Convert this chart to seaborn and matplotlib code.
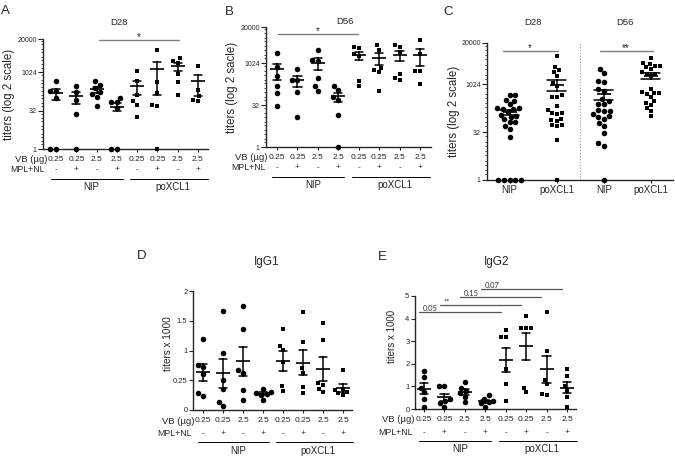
import numpy as np
import pandas as pd
import matplotlib
matplotlib.use('Agg')
import matplotlib.pyplot as plt
import matplotlib.ticker as mticker
from matplotlib.transforms import blended_transform_factory, offset_copy
import seaborn as sns

# group order: NIP (0.25-, 0.25+, 2.5-, 2.5+), poXCL1 (0.25-, 0.25+, 2.5-, 2.5+)
doses = ['0.25', '0.25', '2.5', '2.5', '0.25', '0.25', '2.5', '2.5']
mpl_nl = ['-', '+', '-', '+', '-', '+', '-', '+']
vaccines = ['NIP', 'poXCL1']

d28_titers = [
    [450, 180, 180, 100, 1, 1],
    [300, 170, 80, 23, 1],
    [460, 330, 240, 170, 140, 110, 50],
    [98, 66, 66, 40, 1, 1],
    [1100, 450, 125, 72, 53, 18],
    [7600, 410, 154, 53, 48, 1],
    [3500, 2800, 2400, 880, 410, 125],
    [1780, 208, 114, 84, 75],
]
d56_titers = [
    [2300, 720, 360, 160, 84, 30],
    [610, 250, 245, 94, 12],
    [3100, 1290, 1200, 300, 150, 100],
    [150, 115, 62, 50, 14, 1],
    [3800, 3600, 2200, 1800, 230, 150],
    [4400, 3100, 700, 560, 490, 100],
    [4700, 3800, 2500, 400, 300, 260],
    [6600, 2200, 530, 530, 180],
]
igg1 = [
    [1.19, 0.76, 0.72, 0.6, 0.29, 0.24],
    [1.66, 0.96, 0.5, 0.36, 0.14, 0.07],
    [1.74, 1.36, 0.68, 0.63, 0.33, 0.16],
    [0.36, 0.31, 0.29, 0.27, 0.25, 0.16],
    [1.36, 1.08, 1.01, 0.8, 0.4, 0.32],
    [1.64, 1.15, 0.7, 0.62, 0.39, 0.28],
    [1.46, 1.18, 0.45, 0.42, 0.36, 0.31],
    [0.67, 0.36, 0.33, 0.3, 0.28, 0.26],
]
igg2 = [
    [1.7, 1.4, 0.95, 0.75, 0.45, 0.1],
    [1.0, 1.0, 0.45, 0.35, 0.25, 0.1],
    [1.2, 0.95, 0.8, 0.7, 0.55, 0.3],
    [0.6, 0.45, 0.35, 0.3, 0.25, 0.1],
    [3.5, 3.2, 3.2, 1.75, 1.1, 0.35],
    [4.1, 3.6, 3.6, 3.6, 0.75, 0.95],
    [4.3, 2.55, 1.3, 1.1, 0.6, 0.65],
    [1.75, 1.45, 1.0, 0.8, 0.55, 0.1],
]
igg2_pairs = [(0, 4), (1, 5), (2, 6), (3, 7)]
igg2_pvals = ['0.05', '**', '0.15', '0.07']
igg2_bar_y = [4.31, 4.6, 4.97, 5.31]

pooled_labels = ['NIP', 'poXCL1', 'NIP', 'poXCL1']
# panel C pools the four NIP / poXCL1 groups of each day
pooled = [sum(d28_titers[:4], []), sum(d28_titers[4:], []),
          sum(d56_titers[:4], []), sum(d56_titers[4:], [])]

W, H = 675, 459
sns.set_style('ticks')
plt.rcParams['font.family'] = ['Liberation Sans', 'DejaVu Sans']
plt.rcParams['axes.linewidth'] = 1.0


def box(l, t, r, b):
    return [l / W, 1 - b / H, (r - l) / W, (b - t) / H]


def long_table(groups):
    rows = [(i, v) for i, vals in enumerate(groups) for v in vals]
    return pd.DataFrame(rows, columns=['grp', 'val'])


def dot_panel(ax, groups, squares, sq_color='black'):
    df = long_table(groups)
    circ = df[~df.grp.isin(squares)]
    sq = df[df.grp.isin(squares)]
    sns.swarmplot(data=circ, x='grp', y='val', native_scale=True, marker='o',
                  size=4, color='black', clip_on=False, ax=ax)
    sns.swarmplot(data=sq, x='grp', y='val', native_scale=True, marker='s',
                  size=3.5, color=sq_color, clip_on=False, ax=ax)
    sns.pointplot(data=df, x='grp', y='val', native_scale=True, errorbar='se',
                  capsize=0.4, linestyle='none', marker='_', markersize=10,
                  markeredgewidth=1.2, color='black',
                  err_kws={'linewidth': 1.1}, ax=ax)
    sns.despine(ax=ax)
    ax.set_xlabel('')
    ax.set_ylabel('')


def log2_axis(ax):
    ax.set_yscale('log', base=2)
    ax.set_ylim(1, 20000)
    ax.set_yticks([1, 32, 1024, 20000])
    ax.set_yticklabels(['1', '32', '1024', '20000'])
    ax.yaxis.set_minor_locator(mticker.LogLocator(base=2, subs=(1.0, 1.5), numticks=60))
    ax.yaxis.set_minor_formatter(mticker.NullFormatter())
    ax.tick_params(axis='y', which='major', length=3.5, width=0.8, labelsize=5, pad=1)
    ax.tick_params(axis='y', which='minor', length=1.8, width=0.6)


def group_axis(ax, fig, rows):
    blend = blended_transform_factory(ax.transData, ax.transAxes)

    def row(dy):
        return offset_copy(blend, fig=fig, x=0, y=-dy, units='dots')

    ax.set_xticks(range(8))
    ax.set_xticklabels(doses)
    ax.tick_params(axis='x', length=2.5, width=0.8, labelsize=6, pad=2.2)
    ax.text(-0.45, 0, 'VB (µg)', transform=row(rows[0]), ha='right', va='center', fontsize=6.8)
    ax.text(-0.55, 0, 'MPL+NL', transform=row(rows[1]), ha='right', va='center', fontsize=6.3)
    for i, s in enumerate(mpl_nl):
        ax.text(i, 0, s, transform=row(rows[1]), ha='center', va='center', fontsize=6)
    for (lo, hi), name, mid in zip([(-0.25, 3.3), (3.65, 7.5)], vaccines, [1.75, 5.75]):
        ax.plot([lo, hi], [0, 0], transform=row(rows[2]), color='black', lw=0.7, clip_on=False)
        ax.text(mid, 0, name, transform=row(rows[3]), ha='center', va='center', fontsize=7)


def sig_bar(ax, x0, x1, y, label, color='#808080', size=7, dy=0):
    ax.plot([x0, x1], [y, y], color=color, lw=1.0, clip_on=False)
    ax.annotate(label, xy=((x0 + x1) / 2, y), xytext=(0, dy), textcoords='offset pixels',
                ha='center', va='bottom', fontsize=size, annotation_clip=False)


fig = plt.figure(figsize=(W / 100, H / 100), dpi=100)
axA = fig.add_axes(box(43, 39, 208, 149))
axB = fig.add_axes(box(266, 27, 431, 147))
axC = fig.add_axes(box(487, 43, 673, 180))
axD = fig.add_axes(box(193, 291, 352, 410))
axE = fig.add_axes(box(415, 296, 576, 409))

# A: D28
dot_panel(axA, d28_titers, squares=[4, 5, 6, 7])
log2_axis(axA)
axA.set_xlim(-0.65, 7.5)
group_axis(axA, fig, (11, 21, 29.5, 38))
axA.set_ylabel('titers (log 2 scale)', fontsize=8.3)
axA.yaxis.set_label_coords(-0.17, 0.5)
axA.text(0.46, 1.15, 'D28', transform=axA.transAxes, ha='center', va='center', fontsize=6.8)
sig_bar(axA, 2.1, 6.05, 2 ** 14.1, '*', dy=-2)

# B: D56
dot_panel(axB, d56_titers, squares=[4, 5, 6, 7])
log2_axis(axB)
axB.set_xlim(-0.54, 7.54)
group_axis(axB, fig, (11, 21, 29.5, 38))
axB.set_ylabel('titers (log 2 sacle)', fontsize=8.3)
axB.yaxis.set_label_coords(-0.17, 0.5)
axB.text(0.48, 1.044, 'D56', transform=axB.transAxes, ha='center', va='center', fontsize=6.8)
sig_bar(axB, 0.05, 3.98, 2 ** 13.4, '*', dy=-2)

# C: pooled per vaccine and day
dot_panel(axC, pooled, squares=[1, 3])
log2_axis(axC)
axC.set_xlim(-0.48, 3.47)
axC.set_xticks(range(4))
axC.set_xticklabels(pooled_labels)
axC.tick_params(axis='x', length=2.5, width=0.8, labelsize=7, pad=1)
axC.axvline(1.5, color='#999999', lw=0.8, ls=':')
axC.set_ylabel('titers (log 2 scale)', fontsize=8.3)
axC.yaxis.set_label_coords(-0.145, 0.5)
axC.text(0.5, 1.148, 'D28', transform=blended_transform_factory(axC.transData, axC.transAxes),
         ha='center', va='center', fontsize=6.8)
axC.text(2.45, 1.148, 'D56', transform=blended_transform_factory(axC.transData, axC.transAxes),
         ha='center', va='center', fontsize=6.8)
sig_bar(axC, -0.15, 1.02, 2 ** 13.45, '*', dy=-2)
sig_bar(axC, 1.91, 3.04, 2 ** 13.45, '**', dy=-2)

# D: IgG1
dot_panel(axD, igg1, squares=[4, 5, 6, 7])
axD.set_ylim(0, 2)
axD.set_xlim(-0.5, 7.45)
axD.set_yticks([0, 0.5, 1, 1.5, 2])
axD.set_yticklabels(['0', '0.25', '1', '1.5', '2'])
axD.tick_params(axis='y', length=3, width=0.8, labelsize=5.5, pad=1)
group_axis(axD, fig, (11.5, 23.5, 32, 41))
axD.set_ylabel('titers x 1000', fontsize=7.2)
axD.yaxis.set_label_coords(-0.126, 0.56)
axD.text(0.465, 1.244, 'IgG1', transform=axD.transAxes, ha='center', va='center', fontsize=8.5)

# E: IgG2
dot_panel(axE, igg2, squares=[4, 5, 6, 7])
axE.set_ylim(0, 5)
axE.set_xlim(-0.44, 7.44)
axE.set_yticks(range(6))
axE.tick_params(axis='y', length=3, width=0.8, labelsize=5.5, pad=1)
group_axis(axE, fig, (11, 23.5, 31.5, 40.5))
axE.set_ylabel('titers x 1000', fontsize=7)
axE.yaxis.set_label_coords(-0.112, 0.64)
axE.text(0.51, 1.30, 'IgG2', transform=axE.transAxes, ha='center', va='center', fontsize=8.5)
for (i, j), p, y in zip(igg2_pairs, igg2_pvals, igg2_bar_y):
    axE.plot([i - 0.22, j - 0.25], [y, y], color='#555555', lw=0.9, clip_on=False)
    axE.text(i - 0.05, y, p, ha='left', va='bottom', fontsize=5.5, family=['Lato', 'DejaVu Sans'],
             color='#333333', clip_on=False)

# panel letters
for letter, (x, y) in zip('ABCDE', [(1, 5), (225, 6), (443, 6), (137, 250), (378, 251)]):
    fig.text(x / W, 1 - y / H, letter, ha='left', va='top', fontsize=9.5)

fig.savefig('out.png', dpi=100, facecolor='white')
